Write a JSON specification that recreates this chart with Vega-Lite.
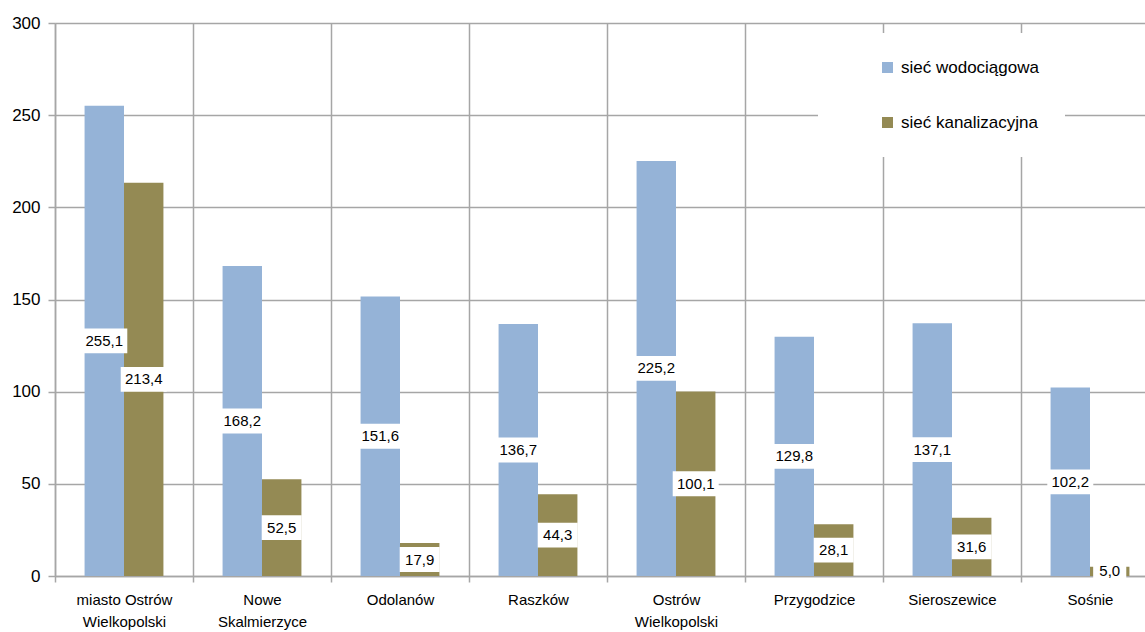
{
  "$schema": "https://vega.github.io/schema/vega-lite/v6.json",
  "width": 1090,
  "height": 553,
  "autosize": {"type": "none"},
  "padding": {"left": 55, "top": 23, "right": 0, "bottom": 56},
  "background": "white",
  "config": {
    "view": {"stroke": null},
    "font": "Liberation Sans",
    "axisX": {
      "title": null,
      "grid": true,
      "tickBand": "extent",
      "gridColor": "#a6a6a6",
      "gridWidth": 1.5,
      "domainColor": "#a6a6a6",
      "domainWidth": 1.5,
      "tickColor": "#a6a6a6",
      "tickWidth": 1.5,
      "tickSize": 6,
      "labelAngle": 0,
      "labelFontSize": 15,
      "labelColor": "#000000",
      "labelBaseline": "top",
      "labelPadding": 10,
      "labelLineHeight": 22,
      "labelLimit": 200,
      "labelExpr": "datum.value == 'miasto Ostrów Wielkopolski' ? ['miasto Ostrów', 'Wielkopolski'] : datum.value == 'Nowe Skalmierzyce' ? ['Nowe', 'Skalmierzyce'] : datum.value == 'Ostrów Wielkopolski' ? ['Ostrów', 'Wielkopolski'] : datum.value"
    },
    "axisY": {
      "title": null,
      "grid": true,
      "gridColor": "#a6a6a6",
      "gridWidth": 1.5,
      "domainColor": "#a6a6a6",
      "domainWidth": 1.5,
      "tickColor": "#a6a6a6",
      "tickWidth": 1.5,
      "tickSize": 7,
      "labelFontSize": 17,
      "labelColor": "#000000",
      "labelPadding": 8
    }
  },
  "data": {
    "values": [
      {"gmina": "miasto Ostrów Wielkopolski", "siec": "sieć wodociągowa", "value": 255.1},
      {"gmina": "miasto Ostrów Wielkopolski", "siec": "sieć kanalizacyjna", "value": 213.4},
      {"gmina": "Nowe Skalmierzyce", "siec": "sieć wodociągowa", "value": 168.2},
      {"gmina": "Nowe Skalmierzyce", "siec": "sieć kanalizacyjna", "value": 52.5},
      {"gmina": "Odolanów", "siec": "sieć wodociągowa", "value": 151.6},
      {"gmina": "Odolanów", "siec": "sieć kanalizacyjna", "value": 17.9},
      {"gmina": "Raszków", "siec": "sieć wodociągowa", "value": 136.7},
      {"gmina": "Raszków", "siec": "sieć kanalizacyjna", "value": 44.3},
      {"gmina": "Ostrów Wielkopolski", "siec": "sieć wodociągowa", "value": 225.2},
      {"gmina": "Ostrów Wielkopolski", "siec": "sieć kanalizacyjna", "value": 100.1},
      {"gmina": "Przygodzice", "siec": "sieć wodociągowa", "value": 129.8},
      {"gmina": "Przygodzice", "siec": "sieć kanalizacyjna", "value": 28.1},
      {"gmina": "Sieroszewice", "siec": "sieć wodociągowa", "value": 137.1},
      {"gmina": "Sieroszewice", "siec": "sieć kanalizacyjna", "value": 31.6},
      {"gmina": "Sośnie", "siec": "sieć wodociągowa", "value": 102.2},
      {"gmina": "Sośnie", "siec": "sieć kanalizacyjna", "value": 5.0}
    ]
  },
  "transform": [
    {"calculate": "datum.value / 2", "as": "mid"},
    {"calculate": "replace(format(datum.value, '.1f'), '.', ',')", "as": "label"},
    {"calculate": "'L' + length(datum.label)", "as": "len"}
  ],
  "encoding": {
    "x": {
      "field": "gmina",
      "type": "nominal",
      "sort": null,
      "scale": {"range": [0, 1104], "paddingInner": 0, "paddingOuter": 0}
    },
    "xOffset": {
      "field": "siec",
      "type": "nominal",
      "sort": ["sieć wodociągowa", "sieć kanalizacyjna"],
      "scale": {"paddingInner": 0, "paddingOuter": 0.75}
    }
  },
  "layer": [
    {
      "mark": {"type": "bar"},
      "encoding": {
        "y": {
          "field": "value",
          "type": "quantitative",
          "scale": {"domain": [0, 300]},
          "title": null,
          "axis": {"values": [0, 50, 100, 150, 200, 250, 300]}
        },
        "color": {
          "field": "siec",
          "type": "nominal",
          "sort": ["sieć wodociągowa", "sieć kanalizacyjna"],
          "scale": {"domain": ["sieć wodociągowa", "sieć kanalizacyjna"], "range": ["#95B3D7", "#948A54"]},
          "legend": {
            "orient": "none",
            "legendX": 763,
            "legendY": 10,
            "title": null,
            "fillColor": "white",
            "padding": 26,
            "symbolOffset": 35,
            "rowPadding": 37,
            "symbolType": "square",
            "symbolSize": 121,
            "symbolStrokeWidth": 0,
            "labelFontSize": 17,
            "labelColor": "#000000",
            "labelOffset": 5
          }
        }
      }
    },
    {
      "mark": {"type": "point", "filled": true, "fill": "white", "opacity": 1, "size": 2116, "strokeWidth": 0},
      "encoding": {
        "y": {"field": "mid", "type": "quantitative", "title": null},
        "shape": {
          "field": "len",
          "type": "nominal",
          "scale": {
            "domain": ["L3", "L4", "L5"],
            "range": ["M-0.72,-0.54H0.72V0.54H-0.72Z", "M-0.87,-0.54H0.87V0.54H-0.87Z", "M-1,-0.54H1V0.54H-1Z"]
          },
          "legend": null
        }
      }
    },
    {
      "mark": {"type": "text", "fontSize": 15, "color": "#000000", "align": "center", "baseline": "middle"},
      "encoding": {
        "y": {"field": "mid", "type": "quantitative", "title": null},
        "text": {"field": "label"}
      }
    }
  ]
}
